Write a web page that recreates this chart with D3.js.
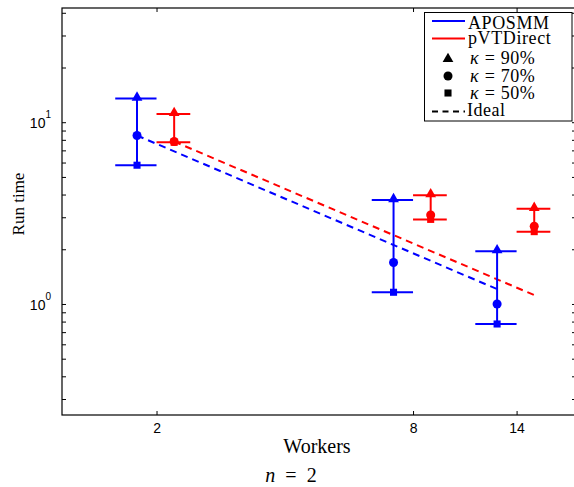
<!DOCTYPE html>
<html><head><meta charset="utf-8">
<script src="https://cdn.jsdelivr.net/npm/d3@7"></script>
<style>body{margin:0;background:#fff;overflow:hidden} svg{display:block}</style>
</head><body>
<script>
// ---- data ----
const workers = [2, 8, 14];
const methods = ["APOSMM", "pVTDirect"];
const kappaLabels = ["90%", "70%", "50%"];
const aposmm90 = [13.5, 3.73, 1.95];
const aposmm70 = [8.45, 1.69, 1.0];
const aposmm50 = [5.8, 1.16, 0.776];
const pvt90 = [11.1, 3.97, 3.34];
const pvt70 = [7.83, 3.09, 2.68];
const pvt50 = [7.75, 2.92, 2.5];
const xOffsetFactor = [0.9, 1.1];          // horizontal shift of each method (multiplicative, log axis)
const capFactor = [[0.8, 1.0], [1.0, 1.2]]; // cap extent of each method
const yMajor = [1, 10];
const yMinor = [0.3,0.4,0.5,0.6,0.7,0.8,0.9,2,3,4,5,6,7,8,9,20,30,40];

const colors = ["#0000ff", "#ff0000"];
const W = 574, H = 487;
const L = 62, R = 576, T = 8, B = 415;

const svg = d3.select("body").append("svg").attr("width", W).attr("height", H);
const x = d3.scaleLog().domain([1.2, 19.3]).range([L, R]);
const y = d3.scaleLog().domain([0.245, 42.5]).range([B, T]);

const sans = "Liberation Sans, Arial, sans-serif";
const serif = "Liberation Serif, Times New Roman, serif";

function styleAxis(g){
  g.select(".domain").remove();
  g.selectAll(".tick line").attr("stroke", "#000").attr("stroke-width", 1);
  g.selectAll("text").attr("font-family", sans).attr("font-size", 14).attr("fill", "#000");
}
svg.append("g").attr("transform", `translate(0,${B})`)
  .call(d3.axisBottom(x).tickValues(workers).tickSizeInner(-4).tickSizeOuter(0).tickPadding(8).tickFormat(d3.format("d")))
  .call(styleAxis);
svg.append("g").attr("transform", `translate(0,${T})`)
  .call(d3.axisTop(x).tickValues(workers).tickSizeInner(-4).tickSizeOuter(0).tickFormat(""))
  .call(styleAxis);
const yAll = yMajor.concat(yMinor);
svg.append("g").attr("transform", `translate(${L},0)`)
  .call(d3.axisLeft(y).tickValues(yAll).tickSizeInner(-4).tickSizeOuter(0).tickFormat(""))
  .call(styleAxis);
svg.append("g").attr("transform", `translate(${R},0)`)
  .call(d3.axisRight(y).tickValues(yAll).tickSizeInner(-4).tickSizeOuter(0).tickFormat(""))
  .call(styleAxis);

yMajor.forEach(v => {
  const t = svg.append("text").attr("x", 51).attr("y", y(v) + 6)
    .attr("text-anchor", "end").attr("font-family", sans).attr("font-size", 14);
  t.append("tspan").text("10");
  t.append("tspan").attr("dy", -10).attr("font-size", 10).text(String(Math.round(Math.log10(v))));
});

svg.append("rect").attr("x", L).attr("y", T).attr("width", R - L).attr("height", B - T)
  .attr("fill", "none").attr("stroke", "#000").attr("stroke-width", 1.2);

const v90 = [aposmm90, pvt90], v70 = [aposmm70, pvt70], v50 = [aposmm50, pvt50];

methods.forEach((m, k) => {
  const f = xOffsetFactor[k];
  const base = v70[k][0] * workers[0];
  const pts = [workers[0], workers[workers.length - 1]].map(w => [x(w * f), y(base / w)]);
  svg.append("path").attr("d", d3.line()(pts)).attr("fill", "none")
    .attr("stroke", colors[k]).attr("stroke-width", 2).attr("stroke-dasharray", "7,5");
});

const tri = d3.symbol().type(d3.symbolTriangle).size(50);
const circ = d3.symbol().type(d3.symbolCircle).size(64);
const sq = d3.symbol().type(d3.symbolSquare).size(50);

methods.forEach((m, k) => {
  const g = svg.append("g").attr("stroke", colors[k]).attr("fill", colors[k]);
  workers.forEach((w, i) => {
    const cx = x(w * xOffsetFactor[k]);
    const yt = y(v90[k][i]), ym = y(v70[k][i]), yb = y(v50[k][i]);
    const x0 = x(w * capFactor[k][0]), x1 = x(w * capFactor[k][1]);
    g.append("line").attr("x1", cx).attr("x2", cx).attr("y1", yt).attr("y2", yb).attr("stroke-width", 2);
    g.append("line").attr("x1", x0).attr("x2", x1).attr("y1", yt).attr("y2", yt).attr("stroke-width", 2);
    g.append("line").attr("x1", x0).attr("x2", x1).attr("y1", yb).attr("y2", yb).attr("stroke-width", 2);
    g.append("path").attr("d", tri()).attr("transform", `translate(${cx},${yt - 1})`).attr("stroke", "none");
    g.append("path").attr("d", circ()).attr("transform", `translate(${cx},${ym})`).attr("stroke", "none");
    g.append("path").attr("d", sq()).attr("transform", `translate(${cx},${yb})`).attr("stroke", "none");
  });
});

// legend
const lg = svg.append("g");
lg.append("rect").attr("x", 424.5).attr("y", 12.5).attr("width", 147.5).attr("height", 108.5)
  .attr("fill", "#fff").attr("stroke", "#000").attr("stroke-width", 1);
const lineY = [21, 38.5, 59, 76, 93, 111.5];
const baseY = [28.5, 44, 64, 81.5, 98.5, 115.5];
const fs = 18;
methods.forEach((m, k) => {
  lg.append("line").attr("x1", 432).attr("x2", 465).attr("y1", lineY[k]).attr("y2", lineY[k])
    .attr("stroke", colors[k]).attr("stroke-width", 2);
  lg.append("text").attr("x", 468).attr("y", baseY[k]).attr("font-family", serif)
    .attr("font-size", fs).attr("letter-spacing", 0.6).text(m);
});
const legSyms = [tri, circ, sq];
kappaLabels.forEach((lab, j) => {
  lg.append("path").attr("d", legSyms[j]()).attr("transform", `translate(448,${lineY[2 + j]})`).attr("fill", "#000");
  const t = lg.append("text").attr("x", 470).attr("y", baseY[2 + j]).attr("font-family", serif).attr("font-size", fs);
  t.append("tspan").attr("font-style", "italic").text("κ");
  t.append("tspan").attr("dx", 6).text("=");
  t.append("tspan").attr("dx", 6).attr("letter-spacing", 0.5).text(lab);
});
lg.append("line").attr("x1", 432).attr("x2", 465).attr("y1", lineY[5]).attr("y2", lineY[5])
  .attr("stroke", "#000").attr("stroke-width", 2).attr("stroke-dasharray", "6,4.5");
lg.append("text").attr("x", 467).attr("y", baseY[5]).attr("font-family", serif)
  .attr("font-size", fs).attr("letter-spacing", 0.5).text("Ideal");

// axis titles
svg.append("text").attr("x", 317).attr("y", 453).attr("text-anchor", "middle")
  .attr("font-family", serif).attr("font-size", 20).text("Workers");
svg.append("text").attr("transform", "translate(24,204) rotate(-90)").attr("text-anchor", "middle")
  .attr("font-family", serif).attr("font-size", 17).text("Run time");
const nt = svg.append("text").attr("x", 291).attr("y", 482).attr("text-anchor", "middle")
  .attr("font-family", serif).attr("font-size", 20);
nt.append("tspan").attr("font-style", "italic").text("n");
nt.append("tspan").attr("dx", 10).text("=");
nt.append("tspan").attr("dx", 10).text("2");
</script>
</body></html>
